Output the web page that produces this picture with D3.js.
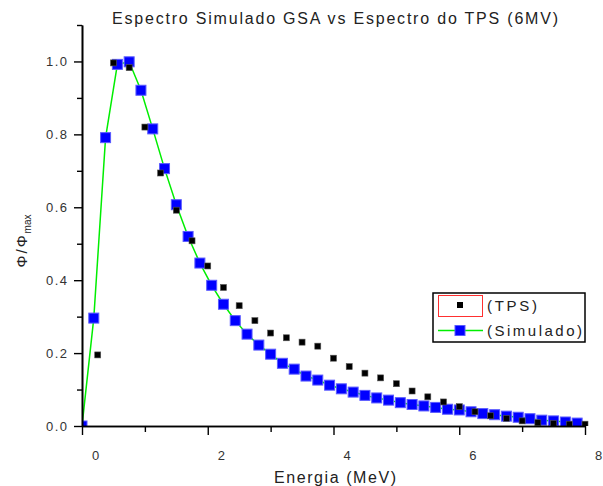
<!DOCTYPE html>
<html>
<head>
<meta charset="utf-8">
<script src="https://cdn.jsdelivr.net/npm/d3@7"></script>
<style>
  body { margin: 0; background: #fff; }
  text { font-family: "Liberation Sans", Arial, sans-serif; }
</style>
</head>
<body>
<svg id="chart_svg"></svg>
<script>
var viewWidth = 603;
var viewHeight = 486;

// Simulado (GSA) spectrum
var simEnergy = [0, 0.1875, 0.375, 0.5625, 0.75, 0.9375, 1.125, 1.3125, 1.5, 1.6875,
  1.875, 2.0625, 2.25, 2.4375, 2.625, 2.8125, 3.0, 3.1875, 3.375, 3.5625,
  3.75, 3.9375, 4.125, 4.3125, 4.5, 4.6875, 4.875, 5.0625, 5.25, 5.4375,
  5.625, 5.8125, 6.0, 6.1875, 6.375, 6.5625, 6.75, 6.9375, 7.125, 7.3125,
  7.5, 7.6875, 7.875];
var simPhi = [0.0, 0.296, 0.791, 0.992, 0.999, 0.921, 0.815, 0.706, 0.607, 0.520,
  0.447, 0.386, 0.334, 0.289, 0.252, 0.222, 0.197, 0.172, 0.156, 0.137,
  0.126, 0.112, 0.102, 0.093, 0.084, 0.077, 0.071, 0.064, 0.059, 0.055,
  0.051, 0.046, 0.044, 0.039, 0.034, 0.031, 0.027, 0.024, 0.020, 0.016,
  0.014, 0.011, 0.008];

// TPS spectrum
var tpsEnergy = [0.25, 0.5, 0.75, 1.0, 1.25, 1.5, 1.75, 2.0, 2.25, 2.5,
  2.75, 3.0, 3.25, 3.5, 3.75, 4.0, 4.25, 4.5, 4.75, 5.0,
  5.25, 5.5, 5.75, 6.0, 6.25, 6.5, 6.75, 7.0, 7.25, 7.5,
  7.75, 8.0];
var tpsPhi = [0.195, 0.996, 0.983, 0.820, 0.694, 0.592, 0.508, 0.439, 0.380, 0.330,
  0.289, 0.255, 0.242, 0.230, 0.219, 0.186, 0.163, 0.145, 0.132, 0.116,
  0.096, 0.080, 0.066, 0.053, 0.039, 0.028, 0.021, 0.014, 0.009, 0.007,
  0.005, 0.005];

var xMajor = [0, 2, 4, 6, 8];
var xMinor = [1, 3, 5, 7];
var yMajor = [0, 0.2, 0.4, 0.6, 0.8, 1.0];
var yMinor = [0.1, 0.3, 0.5, 0.7, 0.9, 1.1];

var margin = {top: 25, right: 18, bottom: 60, left: 82};
var width = viewWidth - margin.left - margin.right;
var height = viewHeight - margin.top - margin.bottom;

var sim = simEnergy.map(function(e, i) { return {x: e, y: simPhi[i]}; });
var tps = tpsEnergy.map(function(e, i) { return {x: e, y: tpsPhi[i]}; });

var svg = d3.select("#chart_svg")
    .attr("width", viewWidth)
    .attr("height", viewHeight);

var g = svg.append("g")
    .attr("transform", "translate(" + margin.left + "," + margin.top + ")");

var x = d3.scaleLinear().domain([0, 8]).range([0, width]);
var y = d3.scaleLinear().domain([0, 1.1]).range([height, 0]);

svg.append("defs").append("clipPath")
    .attr("id", "plotclip")
  .append("rect")
    .attr("x", 0)
    .attr("y", -5)
    .attr("width", width + 6)
    .attr("height", height + 5);

// title
svg.append("text")
    .attr("x", 335)
    .attr("y", 24)
    .attr("text-anchor", "middle")
    .attr("textLength", 446)
    .attr("lengthAdjust", "spacing")
    .style("font-size", "16px")
    .style("fill", "#222")
    .text("Espectro Simulado GSA vs Espectro do TPS (6MV)");

// data
var plot = g.append("g").attr("clip-path", "url(#plotclip)");

var line = d3.line()
    .x(function(d) { return x(d.x); })
    .y(function(d) { return y(d.y); });

plot.append("path")
    .datum(sim)
    .attr("d", line)
    .style("fill", "none")
    .style("stroke", "#00ee00")
    .style("stroke-width", 1.5);

var bs = 10;
plot.selectAll(".sim")
    .data(sim)
  .enter().append("rect")
    .attr("class", "sim")
    .attr("x", function(d) { return x(d.x) - bs / 2; })
    .attr("y", function(d) { return y(d.y) - bs / 2; })
    .attr("width", bs)
    .attr("height", bs)
    .style("fill", "#0000ff")
    .style("stroke", "#5a5aff")
    .style("stroke-width", 1);

var ks = 6;
plot.selectAll(".tps")
    .data(tps)
  .enter().append("rect")
    .attr("class", "tps")
    .attr("x", function(d) { return x(d.x) - ks / 2; })
    .attr("y", function(d) { return y(d.y) - ks / 2; })
    .attr("width", ks)
    .attr("height", ks)
    .style("fill", "#000")
    .style("stroke", "#555")
    .style("stroke-width", 0.6);

// axes
var xAxis = g.append("g")
    .attr("transform", "translate(0," + height + ")")
    .call(d3.axisBottom(x).tickValues(xMajor).tickSize(9).tickSizeOuter(0)
      .tickFormat(d3.format("d")));
g.append("g")
    .attr("transform", "translate(0," + height + ")")
    .call(d3.axisBottom(x).tickValues(xMinor).tickSize(6).tickSizeOuter(0)
      .tickFormat(""));

var yAxis = g.append("g")
    .call(d3.axisLeft(y).tickValues(yMajor).tickSize(8).tickSizeOuter(0)
      .tickFormat(d3.format(".1f")));
g.append("g")
    .call(d3.axisLeft(y).tickValues(yMinor).tickSize(5).tickSizeOuter(0)
      .tickFormat(""));

g.selectAll(".domain").style("stroke", "#000").style("stroke-width", 1.6);
g.selectAll(".tick line").style("stroke", "#000").style("stroke-width", 1.4);

xAxis.selectAll("text")
    .attr("dx", 13)
    .attr("y", 25)
    .style("font-size", "13px")
    .style("fill", "#333");

yAxis.selectAll("text")
    .attr("x", -15)
    .attr("textLength", 21)
    .attr("lengthAdjust", "spacing")
    .style("font-size", "13px")
    .style("fill", "#333");

// axis titles
svg.append("text")
    .attr("x", 335)
    .attr("y", 483)
    .attr("text-anchor", "middle")
    .attr("textLength", 122)
    .attr("lengthAdjust", "spacing")
    .style("font-size", "16px")
    .style("fill", "#222")
    .text("Energia (MeV)");

var ylab = svg.append("text")
    .attr("transform", "translate(27,241) rotate(-90)")
    .attr("text-anchor", "middle")
    .style("font-size", "15px")
    .style("fill", "#222");
ylab.append("tspan").style("letter-spacing", "2px").text("Φ/Φ");
ylab.append("tspan")
    .attr("dy", 4)
    .style("font-size", "10px")
    .text("max");

// legend
var leg = svg.append("g");
leg.append("rect")
    .attr("x", 433)
    .attr("y", 293)
    .attr("width", 152)
    .attr("height", 49)
    .style("fill", "#fff")
    .style("stroke", "#000")
    .style("stroke-width", 1.5);
leg.append("rect")
    .attr("x", 438.5)
    .attr("y", 295.5)
    .attr("width", 44)
    .attr("height", 21)
    .style("fill", "none")
    .style("stroke", "#ff3030")
    .style("stroke-width", 1);
leg.append("rect")
    .attr("x", 460 - ks / 2)
    .attr("y", 305 - ks / 2)
    .attr("width", ks)
    .attr("height", ks)
    .style("fill", "#000");
leg.append("line")
    .attr("x1", 438).attr("x2", 483)
    .attr("y1", 330.5).attr("y2", 330.5)
    .style("stroke", "#00ee00")
    .style("stroke-width", 1.5);
leg.append("rect")
    .attr("x", 460 - bs / 2)
    .attr("y", 330.5 - bs / 2)
    .attr("width", bs)
    .attr("height", bs)
    .style("fill", "#0000ff")
    .style("stroke", "#5a5aff");
leg.append("text")
    .attr("x", 487)
    .attr("y", 311)
    .attr("textLength", 50)
    .attr("lengthAdjust", "spacing")
    .style("font-size", "15px")
    .style("fill", "#222")
    .text("(TPS)");
leg.append("text")
    .attr("x", 487)
    .attr("y", 336)
    .attr("textLength", 95)
    .attr("lengthAdjust", "spacing")
    .style("font-size", "15px")
    .style("fill", "#222")
    .text("(Simulado)");
</script>
</body>
</html>
